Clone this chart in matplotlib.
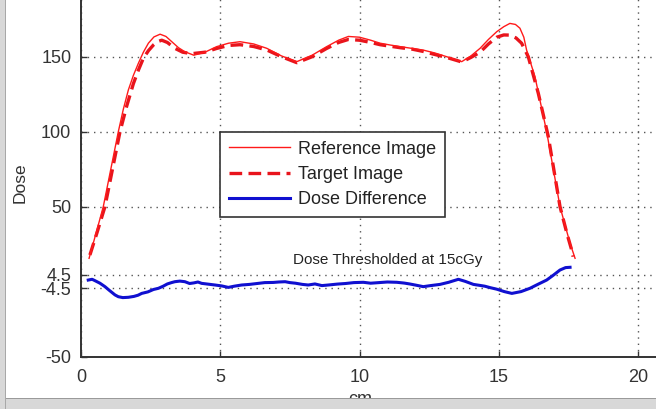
import matplotlib
matplotlib.use("Agg")
import matplotlib.pyplot as plt
from matplotlib.patches import Rectangle

plt.rcParams['font.family'] = ['Liberation Sans', 'DejaVu Sans']

# ---- data ----
ref_x = [0.29, 0.55, 0.80, 1.07, 1.34, 1.52, 1.70, 1.88, 2.06, 2.24, 2.42, 2.62, 2.84, 3.05, 3.26, 3.50,
         3.73, 4.05, 4.45, 4.87, 5.30, 5.71, 6.20, 6.67, 7.20, 7.75, 8.30, 8.82, 9.25, 9.60, 10.0,
         10.40, 10.74, 11.10, 11.46, 11.90, 12.29, 12.70, 13.13, 13.67, 14.00, 14.33, 14.63, 14.93,
         15.18, 15.40, 15.60, 15.76, 15.90, 16.00, 16.30, 16.72, 17.20, 17.56, 17.74]
ref_y = [15.6, 33.0, 50.0, 75.0, 100.0, 115.0, 127.8, 137.5, 145.6, 153.0, 159.0, 163.2, 165.0, 163.5, 160.0, 156.0,
         153.3, 151.0, 153.0, 156.7, 159.0, 160.0, 158.5, 155.6, 150.5, 146.7, 151.0, 156.7, 161.0, 163.5, 163.0,
         161.0, 159.0, 157.8, 156.7, 155.5, 154.4, 152.5, 150.0, 146.7, 150.5, 155.6, 161.5, 166.7,
         170.0, 172.2, 171.5, 169.0, 163.0, 154.4, 136.7, 100.0, 50.0, 25.6, 15.6]

tgt_x = [0.32, 0.58, 0.86, 1.13, 1.40, 1.64, 1.88, 2.06, 2.24, 2.42, 2.60, 2.75, 2.90, 3.10, 3.37, 3.65,
         3.97, 4.45, 4.87, 5.30, 5.71, 6.20, 6.67, 7.20, 7.75, 8.30, 8.82, 9.25, 9.60, 10.0,
         10.40, 10.74, 11.10, 11.46, 11.90, 12.29, 12.70, 13.13, 13.67, 14.00, 14.33, 14.63, 14.93,
         15.18, 15.40, 15.62, 15.82, 16.06, 16.42, 16.78, 17.20, 17.45, 17.62, 17.67]
tgt_y = [17.8, 33.0, 50.0, 75.0, 100.0, 117.0, 132.0, 141.0, 149.0, 154.0, 157.8, 160.0, 161.0, 159.5, 155.6, 153.0,
         152.0, 153.0, 155.5, 157.5, 158.0, 156.8, 154.5, 150.0, 146.0, 150.0, 155.5, 159.5, 161.5, 161.0,
         159.5, 158.0, 157.0, 156.0, 155.0, 153.5, 151.5, 149.5, 146.5, 149.5, 153.0, 158.5, 163.0,
         164.5, 164.4, 162.5, 159.0, 150.0, 125.6, 96.7, 50.0, 32.0, 21.0, 16.7]

diff_x = [0.26, 0.40, 0.50, 0.68, 0.86, 1.00, 1.10, 1.22, 1.34, 1.50, 1.70, 1.90, 2.05, 2.18, 2.40, 2.60,
          2.78, 2.95, 3.10, 3.25, 3.37, 3.55, 3.73, 3.90, 4.05, 4.20, 4.33, 4.55, 4.81, 5.05, 5.29, 5.50,
          5.77, 6.05, 6.37, 6.60, 6.90, 7.10, 7.33, 7.50, 7.70, 7.95, 8.16, 8.40, 8.65, 8.88, 9.20, 9.50,
          9.80, 10.14, 10.40, 10.70, 11.00, 11.34, 11.60, 11.80, 12.05, 12.29, 12.55, 12.89, 13.20,
          13.55, 13.80, 14.09, 14.30, 14.50, 14.70, 14.93, 15.20, 15.47, 15.80, 16.12, 16.40, 16.72,
          16.95, 17.20, 17.40, 17.56]
diff_y = [1.1, 1.6, 0.7, -1.0, -3.3, -5.5, -7.0, -8.8, -10.0, -10.6, -10.4, -9.8, -9.0, -7.8, -6.8, -5.2,
          -4.4, -3.0, -1.5, -0.6, 0.0, 0.4, 0.0, -1.2, -0.8, -0.2, -1.1, -1.6, -2.2, -2.8, -3.8, -3.0,
          -2.2, -1.8, -1.1, -0.6, -0.5, -0.2, 0.0, -0.6, -1.0, -1.8, -2.2, -1.5, -2.6, -2.2, -1.6, -1.2,
          -0.6, -0.4, -1.0, -0.6, -0.2, -0.4, -0.9, -1.5, -2.4, -3.3, -2.6, -1.8, -0.4,
          1.6, 0.2, -1.8, -2.4, -3.0, -4.0, -5.0, -6.6, -7.8, -6.6, -4.4, -1.8, 1.1,
          4.2, 7.8, 9.4, 9.6]

series_labels = ['Reference Image', 'Target Image', 'Dose Difference']
x_ticks = [0, 5, 10, 15, 20]
y_ticks = [-50, -4.5, 4.5, 50, 100, 150]
y_tick_labels = ['-50', '-4.5', '4.5', '50', '100', '150']

W, H = 656, 409
fig = plt.figure(figsize=(W / 100, H / 100), dpi=100, facecolor='white')

# axes placed so that the visible part matches the (cropped) reference
x0_px, xb_px = 81.0, 356.7
ppx, ppy = 27.85, 1.5
xmin, xmax, ymin, ymax = 0, 25, -50, 200
ax = fig.add_axes([x0_px / W, (H - xb_px) / H,
                   (xmax - xmin) * ppx / W, (ymax - ymin) * ppy / H])
ax.set_xlim(xmin, xmax)
ax.set_ylim(ymin, ymax)

ax.plot(ref_x, ref_y, color='#ff1a1a', lw=1.0, label=series_labels[0], zorder=4)
ax.plot(tgt_x, tgt_y, color='#e8141c', lw=2.4, ls=(0, (3.8, 1.9)), label=series_labels[1], zorder=3)
ax.plot(diff_x, diff_y, color='#1010d0', lw=2.2, label=series_labels[2], zorder=3)

ax.set_xticks(x_ticks)
ax.set_yticks(y_ticks)
ax.set_yticklabels(y_tick_labels)
ax.tick_params(direction='in', length=4, width=1, colors='#333333', labelsize=13, pad=7)
ax.tick_params(axis='x', pad=9)
ax.grid(True, color='#555555', lw=1.0, ls=(0, (1, 3.5)))
for s in ['top', 'right']:
    ax.spines[s].set_visible(False)
for s in ['left', 'bottom']:
    ax.spines[s].set_color('#333333')
    ax.spines[s].set_linewidth(1.4)

ax.text(7.61, 14.5, 'Dose Thresholded at 15cGy', fontsize=11, color='#222222',
        va='center', ha='left')

leg = ax.legend(loc='upper left', bbox_to_anchor=(220 / W, 1 - 131.7 / H),
                bbox_transform=fig.transFigure, borderaxespad=0, fontsize=13,
                handlelength=3.4, handletextpad=0.4, labelspacing=0.45, borderpad=0.5,
                fancybox=False, framealpha=1, edgecolor='#333333')
leg.get_frame().set_linewidth(1.2)
for t in leg.get_texts():
    t.set_color('#222222')

fig.text(20.5 / W, 1 - 183 / H, 'Dose', rotation=90, fontsize=12.5, color='#333333',
         ha='center', va='center')
fig.text(360 / W, 1 - 391 / H, 'cm', fontsize=13, color='#333333', ha='center', va='top')

# window frame (gray borders)
fig.patches.append(Rectangle((0, 0), 1, 11 / H, transform=fig.transFigure,
                             facecolor='#d8d8d8', edgecolor='none', zorder=10))
fig.patches.append(Rectangle((0, 10 / H), 1, 1.2 / H, transform=fig.transFigure,
                             facecolor='#9a9a9a', edgecolor='none', zorder=10))
fig.patches.append(Rectangle((0, 0), 5 / W, 1, transform=fig.transFigure,
                             facecolor='#d8d8d8', edgecolor='none', zorder=10))
fig.patches.append(Rectangle((5 / W, 0), 1.2 / W, 1, transform=fig.transFigure,
                             facecolor='#a8a8a8', edgecolor='none', zorder=10))

fig.savefig('out.png', dpi=100, facecolor='white')
